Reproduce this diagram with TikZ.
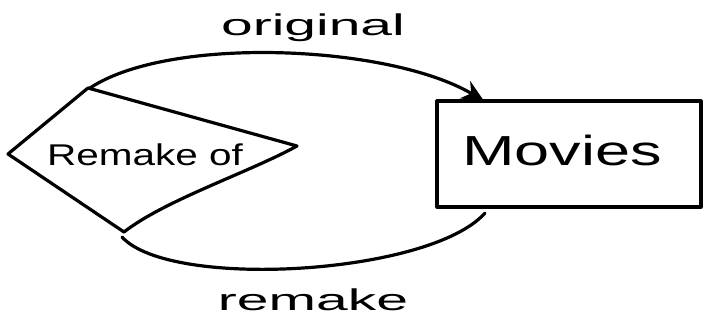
\documentclass[tikz,border=0pt]{standalone}
\usepackage{fontspec}
\setmainfont{Liberation Sans}
\usetikzlibrary{arrows.meta}
\begin{document}
\begin{tikzpicture}[x=1pt,y=-1pt,
  ink/.style={line width=3.2pt,line cap=round,line join=round},
  lbl/.style={inner sep=0pt,font=\fontsize{30}{30}\selectfont}]
\useasboundingbox (0,0) rectangle (704,324);
% diamond
\coordinate (dl) at (8,154);
\coordinate (dt) at (88,88);
\coordinate (dr) at (297,146);
\coordinate (db) at (124,232);
\draw[ink] (dl) -- (dt) -- (dr) .. controls (250,172) and (165,200) .. (db) -- cycle;
\node[lbl,font=\fontsize{30}{30}\selectfont] (rel) at (145,155) {\scalebox{1.35}[1]{Remake of}};
% rectangle
\coordinate (rtl) at (437,101);
\coordinate (rbr) at (701,207);
\draw[ink] (rtl) -- (701,101) -- (rbr) -- (437,207) -- cycle;
\node[lbl,font=\fontsize{42}{42}\selectfont] (mov) at (562,150) {\scalebox{1.5}[1]{Movies}};
% connectors
\coordinate (a1) at (90,88);
\coordinate (a2) at (484,101);
\draw[ink,-{Stealth[length=22pt,width=20pt]}] (a1) .. controls (170,35) and (390,45) .. (a2);
\coordinate (b1) at (122,237);
\coordinate (b2) at (485,213);
\draw[ink] (b1) .. controls (170,290) and (430,275) .. (b2);
\node[lbl] (orig) at (313,28) {\scalebox{1.9}[1]{original}};
\node[lbl] (rem) at (313,300) {\scalebox{1.9}[1]{remake}};
\end{tikzpicture}
\end{document}
